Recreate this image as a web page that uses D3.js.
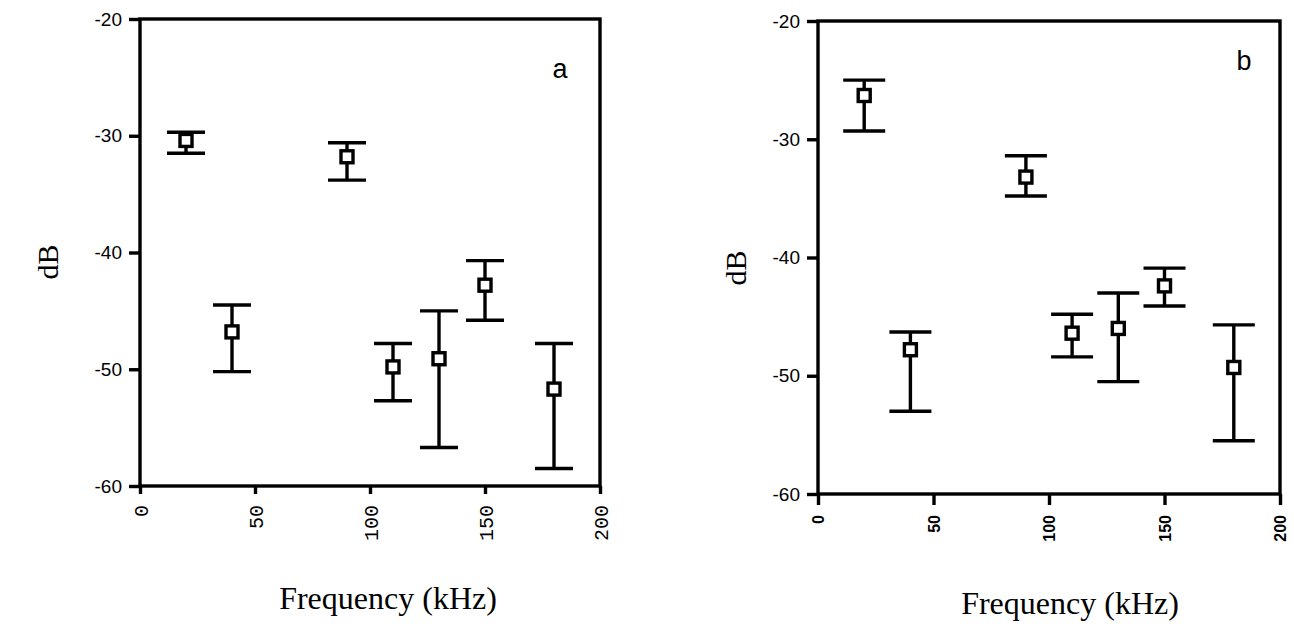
<!DOCTYPE html>
<html>
<head>
<meta charset="utf-8">
<script src="https://cdn.jsdelivr.net/npm/d3@7"></script>
<style>
  body { margin: 0; background: #fff; }
  svg { display: block; }
</style>
</head>
<body>
<svg id="fig" width="1294" height="637"></svg>
<script>
// Panel a: frequency (kHz), mean level and error-bar limits (dB)
const freqA  = [20, 40, 90, 110, 130, 150, 180];
const meanA  = [-30.4, -46.8, -31.8, -49.8, -49.1, -42.8, -51.7];
const upperA = [-29.7, -44.5, -30.6, -47.8, -45.0, -40.7, -47.8];
const lowerA = [-31.5, -50.2, -33.8, -52.7, -56.7, -45.8, -58.5];

// Panel b
const freqB  = [20, 40, 90, 110, 130, 150, 180];
const meanB  = [-26.3, -47.8, -33.2, -46.4, -46.0, -42.4, -49.3];
const upperB = [-25.0, -46.3, -31.4, -44.8, -43.0, -40.9, -45.7];
const lowerB = [-29.3, -53.0, -34.8, -48.4, -50.5, -44.1, -55.5];

// Axis ticks
const xTicks = [0, 50, 100, 150, 200];
const yTicks = [-20, -30, -40, -50, -60];
const xDomain = [0, 200];
const yDomain = [-60, -20];

const svg = d3.select("#fig");
const plain = d => String(d);   // keeps an ASCII hyphen for negatives

function panel(cfg) {
  const x = d3.scaleLinear().domain(xDomain).range([cfg.left, cfg.right]);
  const y = d3.scaleLinear().domain(yDomain).range([cfg.bottom, cfg.top]);
  const g = svg.append("g");
  const lw = 3.4;

  // y axis
  const ya = g.append("g")
    .attr("transform", `translate(${cfg.left},0)`)
    .call(d3.axisLeft(y).tickValues(yTicks).tickSize(11).tickSizeOuter(0).tickPadding(7)
      .tickFormat(plain));
  ya.select(".domain").remove();
  ya.selectAll(".tick line").attr("stroke", "#000").attr("stroke-width", lw);
  ya.selectAll(".tick text")
    .attr("font-family", cfg.yFont)
    .attr("font-size", cfg.ySize)
    .attr("fill", "#000");

  // x axis with vertical labels
  const xa = g.append("g")
    .attr("transform", `translate(0,${cfg.bottom})`)
    .call(d3.axisBottom(x).tickValues(xTicks).tickSize(cfg.xTick).tickSizeOuter(0)
      .tickFormat(plain));
  xa.select(".domain").remove();
  xa.selectAll(".tick line").attr("stroke", "#000").attr("stroke-width", lw);
  xa.selectAll(".tick text")
    .attr("transform", "rotate(-90)")
    .attr("x", -cfg.xLabelOff)
    .attr("y", 0)
    .attr("dy", "0.35em")
    .attr("text-anchor", "end")
    .attr("font-family", cfg.xFont)
    .attr("font-size", cfg.xSize)
    .attr("font-weight", cfg.xWeight)
    .attr("fill", "#000");

  // frame
  g.append("rect")
    .attr("x", cfg.left).attr("y", cfg.top)
    .attr("width", cfg.right - cfg.left).attr("height", cfg.bottom - cfg.top)
    .attr("fill", "none").attr("stroke", "#000").attr("stroke-width", lw);

  const idx = d3.range(cfg.freq.length);
  const half = cfg.cap / 2;

  // error bars
  const eb = g.append("g").attr("stroke", "#000").attr("stroke-width", lw);
  eb.selectAll(".stem").data(idx).join("line")
    .attr("x1", i => x(cfg.freq[i])).attr("x2", i => x(cfg.freq[i]))
    .attr("y1", i => y(cfg.upper[i])).attr("y2", i => y(cfg.lower[i]));
  eb.selectAll(".capU").data(idx).join("line")
    .attr("x1", i => x(cfg.freq[i]) - half).attr("x2", i => x(cfg.freq[i]) + half)
    .attr("y1", i => y(cfg.upper[i])).attr("y2", i => y(cfg.upper[i]));
  eb.selectAll(".capL").data(idx).join("line")
    .attr("x1", i => x(cfg.freq[i]) - half).attr("x2", i => x(cfg.freq[i]) + half)
    .attr("y1", i => y(cfg.lower[i])).attr("y2", i => y(cfg.lower[i]));

  // open square markers
  const s = 12;
  g.selectAll(".pt").data(idx).join("rect")
    .attr("x", i => x(cfg.freq[i]) - s / 2)
    .attr("y", i => y(cfg.mean[i]) - s / 2)
    .attr("width", s).attr("height", s)
    .attr("fill", "#fff").attr("stroke", "#000").attr("stroke-width", lw);

  // panel letter
  g.append("text")
    .attr("x", cfg.letterX).attr("y", cfg.letterY)
    .attr("font-family", "Liberation Sans, Arial, sans-serif")
    .attr("font-size", 27)
    .attr("text-anchor", "middle")
    .text(cfg.letter);

  // axis titles
  g.append("text")
    .attr("x", cfg.xTitleX).attr("y", cfg.xTitleY)
    .attr("font-family", "Liberation Serif, Times New Roman, serif")
    .attr("font-size", 32)
    .attr("text-anchor", "middle")
    .text("Frequency (kHz)");

  g.append("text")
    .attr("transform", `translate(${cfg.yTitleX},${cfg.yTitleY}) rotate(-90)`)
    .attr("font-family", "Liberation Serif, Times New Roman, serif")
    .attr("font-size", 30)
    .attr("text-anchor", "middle")
    .text("dB");
}

panel({
  freq: freqA, mean: meanA, upper: upperA, lower: lowerA,
  left: 140, right: 600, top: 19, bottom: 486,
  cap: 38, letter: "a", letterX: 560, letterY: 78,
  yFont: "Liberation Sans, Arial, sans-serif", ySize: 19,
  xFont: "Liberation Mono, Courier New, monospace", xSize: 20, xWeight: "normal",
  xTick: 8, xLabelOff: 19,
  xTitleX: 388, xTitleY: 609, yTitleX: 58, yTitleY: 262
});

panel({
  freq: freqB, mean: meanB, upper: upperB, lower: lowerB,
  left: 818, right: 1280, top: 21, bottom: 494,
  cap: 42, letter: "b", letterX: 1244, letterY: 70,
  yFont: "Liberation Sans, Arial, sans-serif", ySize: 19,
  xFont: "Liberation Sans, Arial, sans-serif", xSize: 16, xWeight: "bold",
  xTick: 11, xLabelOff: 21,
  xTitleX: 1070, xTitleY: 614, yTitleX: 746, yTitleY: 268
});
</script>
</body>
</html>
